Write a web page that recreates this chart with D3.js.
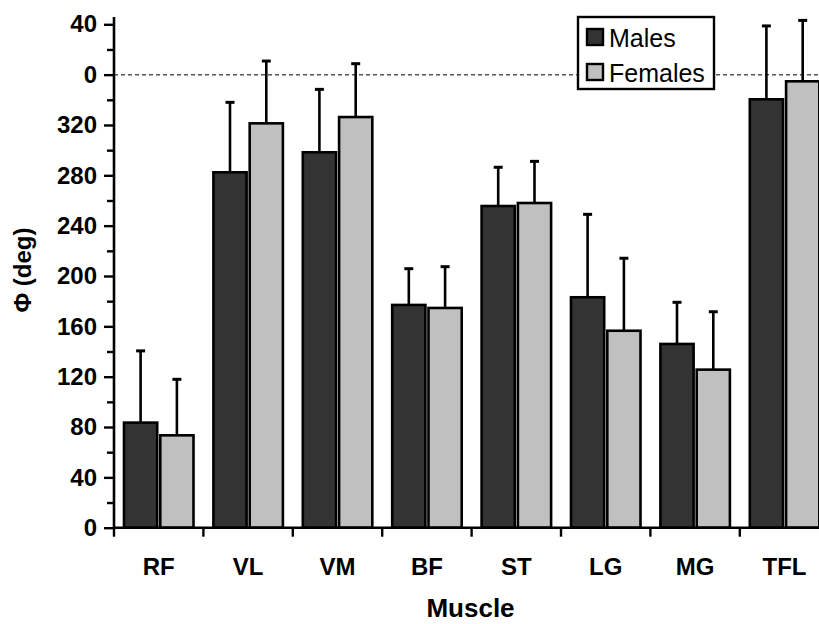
<!DOCTYPE html>
<html>
<head>
<meta charset="utf-8">
<script src="https://cdn.jsdelivr.net/npm/d3@7"></script>
<style>
  html, body { margin: 0; padding: 0; background: #fff; }
  svg { display: block; font-family: "Liberation Sans", Arial, sans-serif; }
</style>
</head>
<body>
<svg id="chart" width="819" height="624"></svg>
<script>
const categories = ["RF", "VL", "VM", "BF", "ST", "LG", "MG", "TFL"];
const seriesNames = ["Males", "Females"];
const malesMean = [83.5, 282.4, 298.3, 177.0, 255.6, 183.1, 146.0, 340.4];
const malesSD   = [57.0, 55.6, 50.0, 28.8, 30.8, 65.9, 33.1, 58.3];
const femalesMean = [73.4, 321.3, 326.3, 174.6, 258.0, 156.5, 125.6, 354.7];
const femalesSD   = [44.5, 49.5, 42.4, 32.8, 33.1, 57.6, 46.0, 48.4];
const yTickValues = [0, 40, 80, 120, 160, 200, 240, 280, 320, 360, 400];
const yMinorValues = [20, 60, 100, 140, 180, 220, 260, 300, 340, 380];
const wrapLine = 360;

const colors = { Males: "#333333", Females: "#c0c0c0" };

const svg = d3.select("#chart");
const x0 = 114, yBase = 527.7, yTop = 24.3;

const x = d3.scaleBand().domain(categories).range([x0, x0 + 8 * 89.4]).padding(0);
const xInner = d3.scaleBand().domain(seriesNames).range([10, 79.5]).paddingInner(0.085).paddingOuter(0);
const y = d3.scaleLinear().domain([0, 400]).range([yBase, yTop]);

const data = categories.map((c, i) => ({
  cat: c,
  vals: [
    { s: "Males", m: malesMean[i], e: malesSD[i] },
    { s: "Females", m: femalesMean[i], e: femalesSD[i] }
  ]
}));

// dashed wrap line at 360 (= 0 deg)
svg.append("line")
  .attr("x1", x0).attr("x2", 819)
  .attr("y1", y(wrapLine)).attr("y2", y(wrapLine))
  .attr("stroke", "#555").attr("stroke-width", 1.5)
  .attr("stroke-dasharray", "4,3");

// error bars
const groups = svg.append("g").selectAll("g").data(data).join("g")
  .attr("transform", d => `translate(${x(d.cat)},0)`);

groups.selectAll("line.err").data(d => d.vals).join("line")
  .attr("class", "err")
  .attr("x1", d => xInner(d.s) + xInner.bandwidth() / 2)
  .attr("x2", d => xInner(d.s) + xInner.bandwidth() / 2)
  .attr("y1", d => y(d.m)).attr("y2", d => y(d.m + d.e))
  .attr("stroke", "#000").attr("stroke-width", 2.6);

groups.selectAll("line.cap").data(d => d.vals).join("line")
  .attr("class", "cap")
  .attr("x1", d => xInner(d.s) + xInner.bandwidth() / 2 - 4.5)
  .attr("x2", d => xInner(d.s) + xInner.bandwidth() / 2 + 4.5)
  .attr("y1", d => y(d.m + d.e)).attr("y2", d => y(d.m + d.e))
  .attr("stroke", "#000").attr("stroke-width", 3);

groups.selectAll("rect").data(d => d.vals).join("rect")
  .attr("x", d => xInner(d.s))
  .attr("width", xInner.bandwidth())
  .attr("y", d => y(d.m))
  .attr("height", d => y(0) - y(d.m))
  .attr("fill", d => colors[d.s])
  .attr("stroke", "#000").attr("stroke-width", 2.6);

// Y axis
const yAxis = svg.append("g").attr("transform", `translate(${x0},0)`)
  .call(d3.axisLeft(y).tickValues(yTickValues).tickSize(10).tickPadding(7)
    .tickFormat(d => String(d % 360)));
yAxis.select(".domain").remove();
yAxis.selectAll(".tick line").attr("stroke", "#000").attr("stroke-width", 2.4);
yAxis.selectAll(".tick text").attr("font-size", 24).attr("font-weight", "bold")
  .attr("fill", "#000").attr("font-family", "Liberation Sans, Arial, sans-serif");
const yMinor = svg.append("g").attr("transform", `translate(${x0},0)`)
  .call(d3.axisLeft(y).tickValues(yMinorValues).tickSize(7).tickFormat(""));
yMinor.select(".domain").remove();
yMinor.selectAll(".tick line").attr("stroke", "#000").attr("stroke-width", 2.4);
svg.append("line").attr("x1", x0).attr("x2", x0).attr("y1", 17).attr("y2", yBase + 1)
  .attr("stroke", "#000").attr("stroke-width", 2.6);

// X axis
svg.append("line").attr("x1", x0 - 1).attr("x2", 819).attr("y1", yBase).attr("y2", yBase)
  .attr("stroke", "#000").attr("stroke-width", 2.6);
svg.append("g").selectAll("line").data(categories).join("line")
  .attr("x1", d => x(d)).attr("x2", d => x(d))
  .attr("y1", yBase).attr("y2", yBase + 9)
  .attr("stroke", "#000").attr("stroke-width", 2.4);
svg.append("g").selectAll("text").data(categories).join("text")
  .attr("x", d => x(d) + x.bandwidth() / 2)
  .attr("y", 575)
  .attr("text-anchor", "middle")
  .attr("font-size", 24).attr("font-weight", "bold")
  .text(d => d);

// axis titles
svg.append("text").attr("x", 470.5).attr("y", 617).attr("text-anchor", "middle")
  .attr("font-size", 26).attr("font-weight", "bold").text("Muscle");
svg.append("text").attr("transform", "translate(31,270) rotate(-90)")
  .attr("text-anchor", "middle")
  .attr("font-size", 24).attr("font-weight", "bold").text("Φ (deg)");

// legend
const lg = svg.append("g");
lg.append("rect").attr("x", 578).attr("y", 17).attr("width", 136).attr("height", 72)
  .attr("fill", "#fff").attr("stroke", "#000").attr("stroke-width", 2.4);
seriesNames.forEach((s, i) => {
  lg.append("rect").attr("x", 587).attr("y", 29 + i * 35).attr("width", 16).attr("height", 16)
    .attr("fill", colors[s]).attr("stroke", "#000").attr("stroke-width", 2.4);
  lg.append("text").attr("x", 609).attr("y", 46.5 + i * 35)
    .attr("font-size", 25).text(s);
});
</script>
</body>
</html>
